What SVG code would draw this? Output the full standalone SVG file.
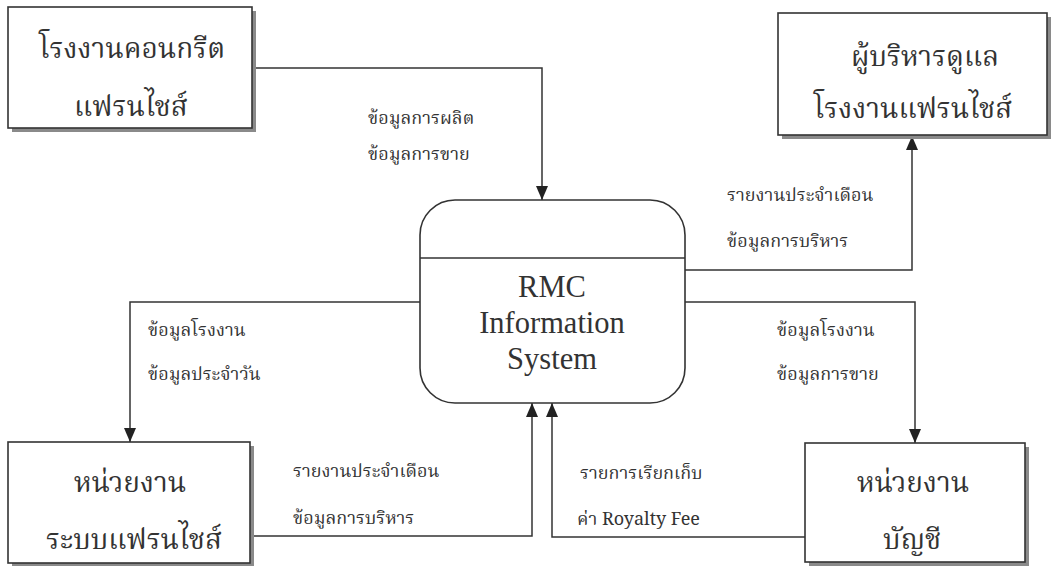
<svg xmlns="http://www.w3.org/2000/svg" width="1054" height="566" viewBox="0 0 1054 566">
<style>
.box{fill:#fff;stroke:#333;stroke-width:1.6}
.shadow{fill:#8a8a8a}
.big{font-family:"Norasi","Noto Serif Thai","Liberation Serif",serif;font-size:28px;fill:#333;text-anchor:middle}
.lbl{font-family:"Norasi","Noto Serif Thai","Liberation Serif",serif;font-size:18px;fill:#333}
.en{font-family:"Liberation Serif",serif;font-size:30.5px;fill:#333;text-anchor:middle}
.line{fill:none;stroke:#333;stroke-width:1.5}
</style>
<defs>
<marker id="arr" markerWidth="16" markerHeight="14" refX="14" refY="6" orient="auto" markerUnits="userSpaceOnUse">
<path d="M0,0 L14,6 L0,12 Z" fill="#222"/>
</marker>
</defs>
<rect width="1054" height="566" fill="#fff"/>
<g id="conn">
<path class="line" d="M252,68 H542 V200" marker-end="url(#arr)"/>
<path class="line" d="M685,270 H912 V136" marker-end="url(#arr)"/>
<path class="line" d="M420,302 H130 V442" marker-end="url(#arr)"/>
<path class="line" d="M685,302 H915 V443" marker-end="url(#arr)"/>
<path class="line" d="M250,536 H532 V403" marker-end="url(#arr)"/>
<path class="line" d="M805,537 H552 V403" marker-end="url(#arr)"/>
<text class="lbl" x="368" y="124">ข้อมูลการผลิต</text>
<text class="lbl" x="368" y="160">ข้อมูลการขาย</text>
<text class="lbl" x="727" y="201">รายงานประจำเดือน</text>
<text class="lbl" x="727" y="247">ข้อมูลการบริหาร</text>
<text class="lbl" x="148" y="336">ข้อมูลโรงงาน</text>
<text class="lbl" x="148" y="380">ข้อมูลประจำวัน</text>
<text class="lbl" x="777" y="336">ข้อมูลโรงงาน</text>
<text class="lbl" x="777" y="380">ข้อมูลการขาย</text>
<text class="lbl" x="293" y="477">รายงานประจำเดือน</text>
<text class="lbl" x="293" y="524">ข้อมูลการบริหาร</text>
<text class="lbl" x="580" y="479">รายการเรียกเก็บ</text>
<text class="lbl" x="577" y="525">ค่า Royalty Fee</text>
</g>
<g id="n1">
<rect class="shadow" x="12" y="11" width="244" height="121"/>
<rect class="box" x="8" y="7" width="244" height="121"/>
<text class="big" x="132" y="58">โรงงานคอนกรีต</text>
<text class="big" x="131" y="116">แฟรนไชส์</text>
</g>
<g id="n2">
<rect class="shadow" x="782" y="17" width="269" height="122"/>
<rect class="box" x="778" y="13" width="269" height="122"/>
<text class="big" x="925" y="66">ผู้บริหารดูแล</text>
<text class="big" x="913" y="118">โรงงานแฟรนไชส์</text>
</g>
<g id="center">
<rect class="box" x="420" y="200" width="265" height="203" rx="35"/>
<line class="line" x1="420" y1="258" x2="685" y2="258"/>
<text class="en" x="552" y="297">RMC</text>
<text class="en" x="552" y="333">Information</text>
<text class="en" x="552" y="369">System</text>
</g>
<g id="n3">
<rect class="shadow" x="12" y="446" width="242" height="121"/>
<rect class="box" x="8" y="442" width="242" height="121"/>
<text class="big" x="130" y="492">หน่วยงาน</text>
<text class="big" x="134" y="549">ระบบแฟรนไชส์</text>
</g>
<g id="n4">
<rect class="shadow" x="809" y="447" width="220" height="119"/>
<rect class="box" x="805" y="443" width="220" height="119"/>
<text class="big" x="913" y="492">หน่วยงาน</text>
<text class="big" x="912" y="549">บัญชี</text>
</g>
</svg>
